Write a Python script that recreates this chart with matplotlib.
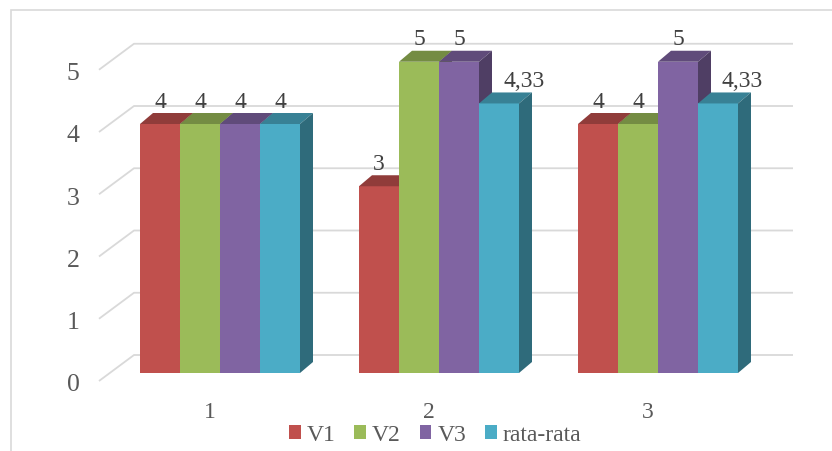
import matplotlib.pyplot as plt
from matplotlib.patches import Polygon, Rectangle, Patch
from matplotlib.colors import to_rgb

categories = ['1', '2', '3']
series_names = ['V1', 'V2', 'V3', 'rata-rata']
v1 = [4, 3, 4]
v2 = [4, 5, 4]
v3 = [4, 5, 5]
rata_rata = [4, 4.33, 4.33]
y_ticks = [0, 1, 2, 3, 4, 5]

colors = ['#C0504D', '#9BBB59', '#8064A2', '#4BACC6']

plt.rcParams['font.family'] = ['Liberation Serif', 'DejaVu Serif']

W, H = 832, 452
fig = plt.figure(figsize=(W / 100, H / 100), dpi=100)
ax = fig.add_axes([0, 0, 1, 1])

# one x unit = one category group, one y unit = one score point
px_x = 219.0
px_y = 62.25
x_org = 220   # pixel column of the first group centre
y_org = 374   # pixel row of value 0 on the bar front
ax.set_xlim(-x_org / px_x, (W - x_org) / px_x)
ax.set_ylim((y_org - H) / px_y, y_org / px_y)
ax.axis('off')


def dx(p):
    return p / px_x


def dy(p):
    return p / px_y


def shade(c, f):
    return tuple(v * f for v in to_rgb(c))


def fmt(v):
    s = ('%.2f' % v).rstrip('0').rstrip('.')
    return s.replace('.', ',')


# depth of the 3d bars
DX = dx(13)
DY = dy(11)

# back wall gridlines with the slanted floor part
grid_front_x = dx(-121)
grid_back_x = dx(-86)
grid_end_x = dx(573)
for v in y_ticks:
    ax.plot([grid_front_x, grid_back_x, grid_end_x],
            [v - dy(8), v + dy(18), v + dy(18)],
            color='#D9D9D9', lw=1.3, zorder=1, solid_capstyle='butt')
    ax.text(dx(-147), v - dy(17.5), str(v), ha='center', va='baseline',
            fontsize=18.5, color='#595959')

data = [v1, v2, v3, rata_rata]
bw = dx(40)
for i, (name, vals, c) in enumerate(zip(series_names, data, colors)):
    xs = [k + (i - 1.5) * bw for k in range(len(categories))]
    z = 3 + i
    ax.bar(xs, vals, width=bw, color=c, lw=0, zorder=z)
    for x, v in zip(xs, vals):
        x0, x1 = x - bw / 2, x + bw / 2
        top = [(x0, v), (x1, v), (x1 + DX, v + DY), (x0 + DX, v + DY)]
        side = [(x1, 0), (x1 + DX, DY), (x1 + DX, v + DY), (x1, v)]
        ax.add_patch(Polygon(top, closed=True, fc=shade(c, 0.75), lw=0, zorder=z))
        ax.add_patch(Polygon(side, closed=True, fc=shade(c, 0.62), lw=0, zorder=z))
        lab = fmt(v)
        if ',' in lab:
            ax.text(x + dx(4), v + dy(17.5), lab, ha='left', va='baseline',
                    fontsize=17, color='#404040', zorder=10)
        else:
            ax.text(x, v + dy(17.5), lab, ha='center', va='baseline',
                    fontsize=17, color='#404040', zorder=10)

for k, cat in enumerate(categories):
    ax.text(k - dx(10), -dy(44), cat, ha='center', va='baseline',
            fontsize=17, color='#595959')

handles = [Patch(facecolor=c, label=n) for n, c in zip(series_names, colors)]
fig.legend(handles=handles, loc='center', bbox_to_anchor=(435 / W, 1 - 436 / H),
           ncol=4, frameon=False, fontsize=17, handlelength=0.5,
           handleheight=0.5, handletextpad=0.25, columnspacing=0.8,
           labelcolor='#595959', borderpad=0, borderaxespad=0)

# chart border (only top and left edges are inside the picture)
ax.add_patch(Rectangle((11 / W, -1), 2, 2 - 11 / H, transform=fig.transFigure,
                       fill=False, ec='#D9D9D9', lw=1.2, clip_on=False))

fig.savefig('out.png', dpi=100)
